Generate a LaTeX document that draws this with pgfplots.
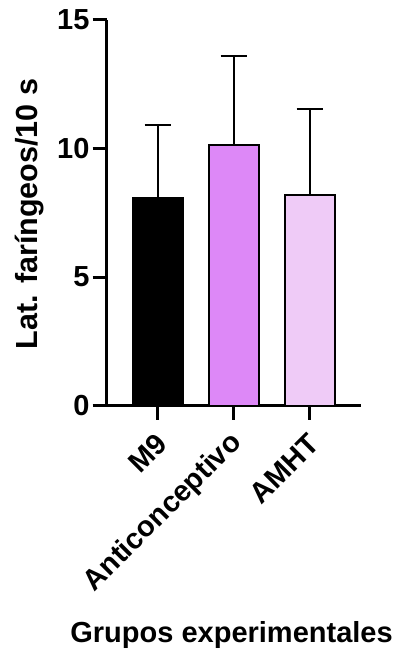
\documentclass[border=0pt]{standalone}
\usepackage{fontspec}
\setmainfont{Liberation Sans}
\usepackage{pgfplots}
\pgfplotsset{compat=1.18}
\definecolor{antic}{HTML}{DD88F7}
\definecolor{amht}{HTML}{EFCBF7}
\begin{document}
\begin{tikzpicture}
\useasboundingbox (-106.7pt,-246.3pt) rectangle (299.3pt,405.7pt);
\begin{axis}[
  scale only axis,
  width=254.3pt, height=385.7pt,
  xmin=-0.67, xmax=2.675,
  ymin=0, ymax=15,
  axis x line=bottom, axis y line=left,
  axis line style={-, line width=3pt, black},
  tick style={line width=3pt, black},
  major tick length=14pt,
  tick align=outside,
  xtick={0,1,2},
  xticklabels={M9,Anticonceptivo,AMHT},
  ytick={0,5,10,15},
  /pgf/number format/assume math mode=true,
  tick label style={font=\fontsize{29}{29}\selectfont\bfseries},
  yticklabel style={inner sep=3pt},
  xticklabel style={xshift=4pt, yshift=-19pt, rotate=45, anchor=east, inner sep=0pt},
  ylabel={Lat. faríngeos/10 s},
  ylabel style={at={(axis description cs:-0.274,0.497)}, anchor=base, rotate=0, font=\fontsize{30.5}{30.5}\selectfont\bfseries},
  xlabel={Grupos experimentales},
  xlabel style={at={(axis description cs:0.491,-0.613)}, anchor=base, font=\fontsize{29}{29}\selectfont\bfseries},
  clip=false,
]
\addplot[ybar, bar width=50pt, bar shift=0pt, fill=black, draw=black, line width=2pt,
  error bars/.cd, y dir=plus, y explicit,
  error bar style={line width=2pt, black},
  error mark options={rotate=90, mark size=13pt, line width=2pt, black}]
  coordinates {(0,8.09) +- (0,2.82)};
\addplot[ybar, bar width=50pt, bar shift=0pt, fill=antic, draw=black, line width=2pt,
  error bars/.cd, y dir=plus, y explicit,
  error bar style={line width=2pt, black},
  error mark options={rotate=90, mark size=13pt, line width=2pt, black}]
  coordinates {(1,10.12) +- (0,3.48)};
\addplot[ybar, bar width=50pt, bar shift=0pt, fill=amht, draw=black, line width=2pt,
  error bars/.cd, y dir=plus, y explicit,
  error bar style={line width=2pt, black},
  error mark options={rotate=90, mark size=13pt, line width=2pt, black}]
  coordinates {(2,8.21) +- (0,3.31)};
\end{axis}
\end{tikzpicture}
\end{document}
